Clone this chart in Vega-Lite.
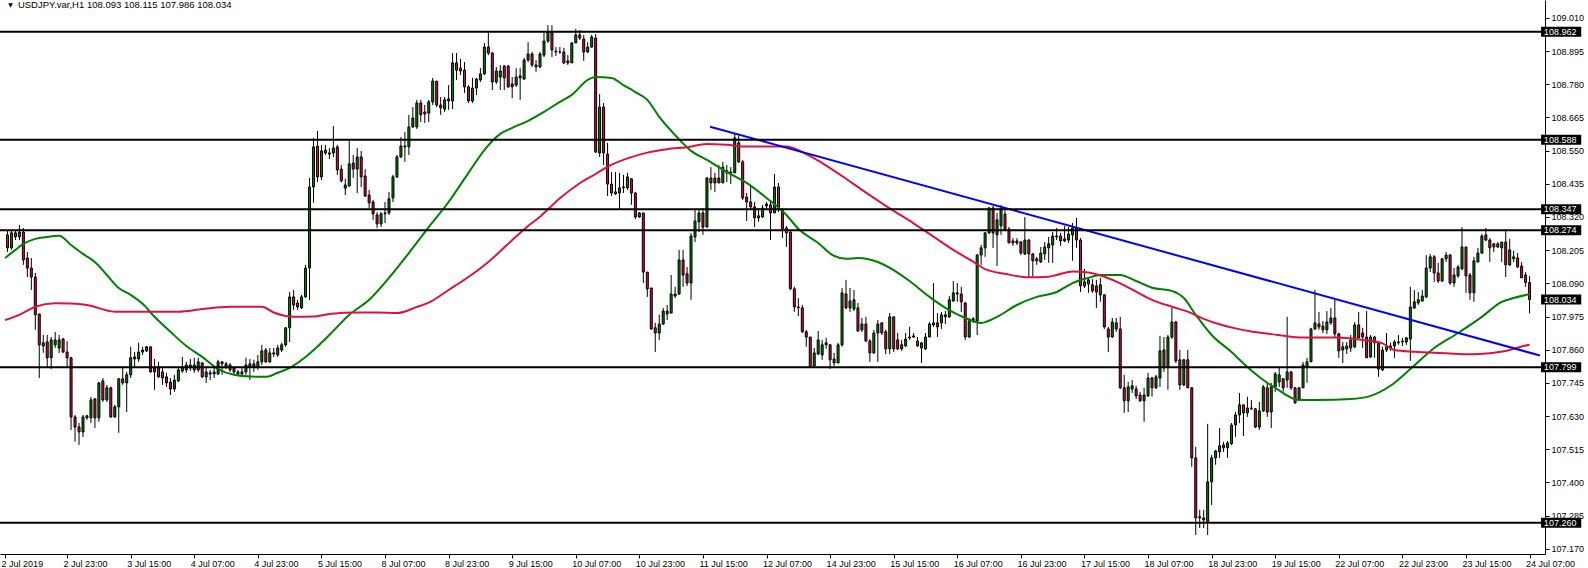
{
"$schema":"https://vega.github.io/schema/vega-lite/v6.json",
"width":1545,"height":554,
"autosize":{"type":"none"},
"padding":{"left":0,"top":0,"right":43,"bottom":14},
"background":"white",
"view":{"stroke":null},
"config":{"font":"Liberation Sans"},
"datasets":{
"bars":[
{"i":0,"o":108.258,"h":108.272,"l":108.199,"c":108.213},
{"i":1,"o":108.213,"h":108.275,"l":108.206,"c":108.265},
{"i":2,"o":108.265,"h":108.275,"l":108.240,"c":108.251},
{"i":3,"o":108.251,"h":108.292,"l":108.240,"c":108.268},
{"i":4,"o":108.268,"h":108.282,"l":108.154,"c":108.171},
{"i":5,"o":108.178,"h":108.199,"l":108.112,"c":108.143},
{"i":6,"o":108.143,"h":108.178,"l":108.067,"c":108.112},
{"i":7,"o":108.112,"h":108.126,"l":107.929,"c":107.981},
{"i":8,"o":107.984,"h":107.984,"l":107.762,"c":107.877},
{"i":9,"o":107.873,"h":107.911,"l":107.849,"c":107.884},
{"i":10,"o":107.887,"h":107.911,"l":107.800,"c":107.832},
{"i":11,"o":107.832,"h":107.904,"l":107.793,"c":107.894},
{"i":12,"o":107.877,"h":107.922,"l":107.866,"c":107.894},
{"i":13,"o":107.866,"h":107.911,"l":107.849,"c":107.894},
{"i":14,"o":107.897,"h":107.901,"l":107.849,"c":107.852},
{"i":15,"o":107.852,"h":107.890,"l":107.797,"c":107.832},
{"i":16,"o":107.832,"h":107.835,"l":107.582,"c":107.627},
{"i":17,"o":107.627,"h":107.634,"l":107.541,"c":107.592},
{"i":18,"o":107.592,"h":107.606,"l":107.530,"c":107.575},
{"i":19,"o":107.575,"h":107.634,"l":107.558,"c":107.627},
{"i":20,"o":107.624,"h":107.634,"l":107.617,"c":107.631},
{"i":21,"o":107.624,"h":107.696,"l":107.606,"c":107.686},
{"i":22,"o":107.689,"h":107.693,"l":107.589,"c":107.624},
{"i":23,"o":107.624,"h":107.748,"l":107.610,"c":107.745},
{"i":24,"o":107.752,"h":107.762,"l":107.679,"c":107.686},
{"i":25,"o":107.686,"h":107.738,"l":107.679,"c":107.728},
{"i":26,"o":107.728,"h":107.731,"l":107.624,"c":107.627},
{"i":27,"o":107.627,"h":107.669,"l":107.624,"c":107.662},
{"i":28,"o":107.662,"h":107.762,"l":107.572,"c":107.759},
{"i":29,"o":107.759,"h":107.797,"l":107.738,"c":107.745},
{"i":30,"o":107.745,"h":107.783,"l":107.644,"c":107.773},
{"i":31,"o":107.773,"h":107.870,"l":107.762,"c":107.832},
{"i":32,"o":107.828,"h":107.852,"l":107.797,"c":107.835},
{"i":33,"o":107.828,"h":107.884,"l":107.818,"c":107.852},
{"i":34,"o":107.852,"h":107.870,"l":107.842,"c":107.859},
{"i":35,"o":107.856,"h":107.873,"l":107.852,"c":107.870},
{"i":36,"o":107.870,"h":107.870,"l":107.780,"c":107.783},
{"i":37,"o":107.783,"h":107.828,"l":107.721,"c":107.797},
{"i":38,"o":107.800,"h":107.818,"l":107.762,"c":107.766},
{"i":39,"o":107.783,"h":107.800,"l":107.738,"c":107.762},
{"i":40,"o":107.766,"h":107.780,"l":107.731,"c":107.745},
{"i":41,"o":107.748,"h":107.762,"l":107.703,"c":107.724},
{"i":42,"o":107.724,"h":107.773,"l":107.714,"c":107.755},
{"i":43,"o":107.752,"h":107.800,"l":107.748,"c":107.790},
{"i":44,"o":107.786,"h":107.835,"l":107.780,"c":107.797},
{"i":45,"o":107.790,"h":107.818,"l":107.780,"c":107.807},
{"i":46,"o":107.797,"h":107.828,"l":107.786,"c":107.807},
{"i":47,"o":107.807,"h":107.832,"l":107.780,"c":107.790},
{"i":48,"o":107.790,"h":107.832,"l":107.783,"c":107.818},
{"i":49,"o":107.814,"h":107.818,"l":107.762,"c":107.766},
{"i":50,"o":107.766,"h":107.797,"l":107.745,"c":107.783},
{"i":51,"o":107.776,"h":107.790,"l":107.755,"c":107.780},
{"i":52,"o":107.776,"h":107.797,"l":107.762,"c":107.783},
{"i":53,"o":107.776,"h":107.825,"l":107.773,"c":107.818},
{"i":54,"o":107.818,"h":107.821,"l":107.773,"c":107.811},
{"i":55,"o":107.811,"h":107.818,"l":107.793,"c":107.800},
{"i":56,"o":107.807,"h":107.814,"l":107.783,"c":107.790},
{"i":57,"o":107.797,"h":107.800,"l":107.776,"c":107.783},
{"i":58,"o":107.776,"h":107.790,"l":107.769,"c":107.783},
{"i":59,"o":107.776,"h":107.797,"l":107.769,"c":107.783},
{"i":60,"o":107.783,"h":107.832,"l":107.773,"c":107.807},
{"i":61,"o":107.811,"h":107.828,"l":107.755,"c":107.800},
{"i":62,"o":107.800,"h":107.825,"l":107.783,"c":107.811},
{"i":63,"o":107.800,"h":107.842,"l":107.790,"c":107.818},
{"i":64,"o":107.818,"h":107.877,"l":107.807,"c":107.856},
{"i":65,"o":107.859,"h":107.866,"l":107.814,"c":107.818},
{"i":66,"o":107.818,"h":107.866,"l":107.814,"c":107.849},
{"i":67,"o":107.845,"h":107.866,"l":107.835,"c":107.849},
{"i":68,"o":107.842,"h":107.877,"l":107.835,"c":107.866},
{"i":69,"o":107.859,"h":107.884,"l":107.852,"c":107.877},
{"i":70,"o":107.877,"h":107.939,"l":107.870,"c":107.936},
{"i":71,"o":107.936,"h":108.060,"l":107.887,"c":108.043},
{"i":72,"o":108.043,"h":108.067,"l":107.998,"c":108.015},
{"i":73,"o":108.022,"h":108.033,"l":107.998,"c":108.008},
{"i":74,"o":108.005,"h":108.050,"l":108.001,"c":108.043},
{"i":75,"o":108.043,"h":108.154,"l":108.039,"c":108.143},
{"i":76,"o":108.143,"h":108.455,"l":108.033,"c":108.424},
{"i":77,"o":108.424,"h":108.594,"l":108.369,"c":108.563},
{"i":78,"o":108.566,"h":108.618,"l":108.441,"c":108.459},
{"i":79,"o":108.459,"h":108.570,"l":108.448,"c":108.549},
{"i":80,"o":108.552,"h":108.570,"l":108.535,"c":108.542},
{"i":81,"o":108.538,"h":108.559,"l":108.521,"c":108.542},
{"i":82,"o":108.542,"h":108.635,"l":108.528,"c":108.559},
{"i":83,"o":108.563,"h":108.570,"l":108.466,"c":108.483},
{"i":84,"o":108.486,"h":108.500,"l":108.440,"c":108.445},
{"i":85,"o":108.420,"h":108.452,"l":108.396,"c":108.431},
{"i":86,"o":108.428,"h":108.587,"l":108.424,"c":108.504},
{"i":87,"o":108.507,"h":108.535,"l":108.455,"c":108.486},
{"i":88,"o":108.486,"h":108.559,"l":108.403,"c":108.528},
{"i":89,"o":108.528,"h":108.549,"l":108.424,"c":108.459},
{"i":90,"o":108.462,"h":108.486,"l":108.389,"c":108.393},
{"i":91,"o":108.396,"h":108.414,"l":108.351,"c":108.369},
{"i":92,"o":108.372,"h":108.379,"l":108.310,"c":108.331},
{"i":93,"o":108.327,"h":108.337,"l":108.282,"c":108.296},
{"i":94,"o":108.296,"h":108.337,"l":108.285,"c":108.331},
{"i":95,"o":108.331,"h":108.372,"l":108.299,"c":108.334},
{"i":96,"o":108.334,"h":108.407,"l":108.327,"c":108.383},
{"i":97,"o":108.386,"h":108.466,"l":108.372,"c":108.459},
{"i":98,"o":108.459,"h":108.535,"l":108.455,"c":108.528},
{"i":99,"o":108.528,"h":108.597,"l":108.525,"c":108.566},
{"i":100,"o":108.563,"h":108.615,"l":108.511,"c":108.566},
{"i":101,"o":108.563,"h":108.674,"l":108.535,"c":108.632},
{"i":102,"o":108.632,"h":108.701,"l":108.629,"c":108.663},
{"i":103,"o":108.632,"h":108.726,"l":108.625,"c":108.715},
{"i":104,"o":108.715,"h":108.726,"l":108.649,"c":108.674},
{"i":105,"o":108.684,"h":108.708,"l":108.646,"c":108.677},
{"i":106,"o":108.680,"h":108.726,"l":108.649,"c":108.719},
{"i":107,"o":108.719,"h":108.802,"l":108.708,"c":108.791},
{"i":108,"o":108.791,"h":108.791,"l":108.701,"c":108.708},
{"i":109,"o":108.708,"h":108.736,"l":108.674,"c":108.698},
{"i":110,"o":108.694,"h":108.736,"l":108.684,"c":108.726},
{"i":111,"o":108.729,"h":108.777,"l":108.691,"c":108.722},
{"i":112,"o":108.722,"h":108.888,"l":108.694,"c":108.854},
{"i":113,"o":108.854,"h":108.888,"l":108.795,"c":108.829},
{"i":114,"o":108.836,"h":108.868,"l":108.812,"c":108.826},
{"i":115,"o":108.829,"h":108.857,"l":108.750,"c":108.771},
{"i":116,"o":108.771,"h":108.777,"l":108.715,"c":108.722},
{"i":117,"o":108.722,"h":108.802,"l":108.715,"c":108.767},
{"i":118,"o":108.767,"h":108.802,"l":108.743,"c":108.798},
{"i":119,"o":108.795,"h":108.836,"l":108.788,"c":108.816},
{"i":120,"o":108.816,"h":108.923,"l":108.812,"c":108.909},
{"i":121,"o":108.909,"h":108.961,"l":108.881,"c":108.888},
{"i":122,"o":108.888,"h":108.892,"l":108.760,"c":108.788},
{"i":123,"o":108.788,"h":108.840,"l":108.781,"c":108.826},
{"i":124,"o":108.805,"h":108.847,"l":108.760,"c":108.826},
{"i":125,"o":108.843,"h":108.847,"l":108.760,"c":108.802},
{"i":126,"o":108.843,"h":108.847,"l":108.767,"c":108.771},
{"i":127,"o":108.781,"h":108.805,"l":108.732,"c":108.771},
{"i":128,"o":108.777,"h":108.836,"l":108.771,"c":108.805},
{"i":129,"o":108.802,"h":108.836,"l":108.726,"c":108.809},
{"i":130,"o":108.798,"h":108.871,"l":108.795,"c":108.864},
{"i":131,"o":108.864,"h":108.926,"l":108.857,"c":108.885},
{"i":132,"o":108.885,"h":108.892,"l":108.840,"c":108.847},
{"i":133,"o":108.847,"h":108.864,"l":108.823,"c":108.840},
{"i":134,"o":108.840,"h":108.892,"l":108.836,"c":108.885},
{"i":135,"o":108.881,"h":108.958,"l":108.874,"c":108.930},
{"i":136,"o":108.930,"h":108.985,"l":108.923,"c":108.961},
{"i":137,"o":108.961,"h":108.985,"l":108.874,"c":108.899},
{"i":138,"o":108.892,"h":108.909,"l":108.878,"c":108.895},
{"i":139,"o":108.892,"h":108.909,"l":108.885,"c":108.892},
{"i":140,"o":108.892,"h":108.906,"l":108.850,"c":108.854},
{"i":141,"o":108.861,"h":108.881,"l":108.847,"c":108.854},
{"i":142,"o":108.854,"h":108.926,"l":108.854,"c":108.923},
{"i":143,"o":108.923,"h":108.972,"l":108.923,"c":108.951},
{"i":144,"o":108.951,"h":108.968,"l":108.933,"c":108.940},
{"i":145,"o":108.937,"h":108.951,"l":108.861,"c":108.892},
{"i":146,"o":108.892,"h":108.926,"l":108.888,"c":108.909},
{"i":147,"o":108.909,"h":108.951,"l":108.906,"c":108.944},
{"i":148,"o":108.940,"h":108.954,"l":108.542,"c":108.545},
{"i":149,"o":108.542,"h":108.746,"l":108.528,"c":108.701},
{"i":150,"o":108.701,"h":108.715,"l":108.500,"c":108.542},
{"i":151,"o":108.538,"h":108.577,"l":108.393,"c":108.434},
{"i":152,"o":108.434,"h":108.476,"l":108.393,"c":108.403},
{"i":153,"o":108.407,"h":108.476,"l":108.396,"c":108.400},
{"i":154,"o":108.403,"h":108.473,"l":108.344,"c":108.421},
{"i":155,"o":108.421,"h":108.466,"l":108.403,"c":108.424},
{"i":156,"o":108.421,"h":108.473,"l":108.414,"c":108.459},
{"i":157,"o":108.452,"h":108.455,"l":108.362,"c":108.403},
{"i":158,"o":108.403,"h":108.407,"l":108.313,"c":108.320},
{"i":159,"o":108.320,"h":108.337,"l":108.317,"c":108.334},
{"i":160,"o":108.334,"h":108.334,"l":108.091,"c":108.129},
{"i":161,"o":108.129,"h":108.129,"l":108.043,"c":108.071},
{"i":162,"o":108.074,"h":108.074,"l":107.929,"c":107.932},
{"i":163,"o":107.936,"h":107.953,"l":107.852,"c":107.918},
{"i":164,"o":107.918,"h":107.981,"l":107.894,"c":107.949},
{"i":165,"o":107.949,"h":108.005,"l":107.946,"c":107.994},
{"i":166,"o":107.994,"h":108.015,"l":107.963,"c":107.984},
{"i":167,"o":107.987,"h":108.119,"l":107.987,"c":108.053},
{"i":168,"o":108.046,"h":108.078,"l":108.039,"c":108.053},
{"i":169,"o":108.053,"h":108.206,"l":108.050,"c":108.171},
{"i":170,"o":108.171,"h":108.206,"l":108.078,"c":108.119},
{"i":171,"o":108.123,"h":108.147,"l":108.081,"c":108.091},
{"i":172,"o":108.091,"h":108.265,"l":108.033,"c":108.254},
{"i":173,"o":108.251,"h":108.348,"l":108.233,"c":108.306},
{"i":174,"o":108.303,"h":108.344,"l":108.268,"c":108.334},
{"i":175,"o":108.334,"h":108.351,"l":108.258,"c":108.285},
{"i":176,"o":108.285,"h":108.459,"l":108.285,"c":108.455},
{"i":177,"o":108.455,"h":108.493,"l":108.414,"c":108.438},
{"i":178,"o":108.438,"h":108.473,"l":108.407,"c":108.455},
{"i":179,"o":108.455,"h":108.500,"l":108.438,"c":108.438},
{"i":180,"o":108.438,"h":108.511,"l":108.438,"c":108.493},
{"i":181,"o":108.473,"h":108.500,"l":108.441,"c":108.480},
{"i":182,"o":108.473,"h":108.493,"l":108.434,"c":108.476},
{"i":183,"o":108.473,"h":108.611,"l":108.473,"c":108.594},
{"i":184,"o":108.577,"h":108.604,"l":108.507,"c":108.511},
{"i":185,"o":108.511,"h":108.518,"l":108.379,"c":108.386},
{"i":186,"o":108.389,"h":108.403,"l":108.306,"c":108.372},
{"i":187,"o":108.372,"h":108.428,"l":108.348,"c":108.355},
{"i":188,"o":108.355,"h":108.372,"l":108.285,"c":108.317},
{"i":189,"o":108.317,"h":108.351,"l":108.303,"c":108.324},
{"i":190,"o":108.320,"h":108.362,"l":108.317,"c":108.351},
{"i":191,"o":108.358,"h":108.372,"l":108.344,"c":108.365},
{"i":192,"o":108.362,"h":108.372,"l":108.240,"c":108.334},
{"i":193,"o":108.334,"h":108.469,"l":108.334,"c":108.424},
{"i":194,"o":108.424,"h":108.438,"l":108.337,"c":108.344},
{"i":195,"o":108.344,"h":108.351,"l":108.247,"c":108.279},
{"i":196,"o":108.282,"h":108.289,"l":108.216,"c":108.265},
{"i":197,"o":108.268,"h":108.275,"l":108.067,"c":108.071},
{"i":198,"o":108.071,"h":108.078,"l":107.991,"c":108.008},
{"i":199,"o":108.005,"h":108.039,"l":107.977,"c":108.008},
{"i":200,"o":108.005,"h":108.015,"l":107.918,"c":107.922},
{"i":201,"o":107.922,"h":107.929,"l":107.870,"c":107.904},
{"i":202,"o":107.904,"h":107.904,"l":107.800,"c":107.800},
{"i":203,"o":107.804,"h":107.866,"l":107.800,"c":107.849},
{"i":204,"o":107.845,"h":107.925,"l":107.842,"c":107.894},
{"i":205,"o":107.842,"h":107.894,"l":107.825,"c":107.877},
{"i":206,"o":107.877,"h":107.901,"l":107.863,"c":107.884},
{"i":207,"o":107.877,"h":107.880,"l":107.793,"c":107.825},
{"i":208,"o":107.814,"h":107.849,"l":107.804,"c":107.828},
{"i":209,"o":107.814,"h":107.884,"l":107.814,"c":107.877},
{"i":210,"o":107.877,"h":108.074,"l":107.870,"c":108.057},
{"i":211,"o":108.053,"h":108.102,"l":108.001,"c":108.005},
{"i":212,"o":108.005,"h":108.074,"l":107.991,"c":108.029},
{"i":213,"o":108.001,"h":108.067,"l":107.994,"c":108.033},
{"i":214,"o":108.005,"h":108.022,"l":107.922,"c":107.925},
{"i":215,"o":107.929,"h":107.970,"l":107.922,"c":107.949},
{"i":216,"o":107.949,"h":107.974,"l":107.887,"c":107.890},
{"i":217,"o":107.890,"h":107.897,"l":107.818,"c":107.849},
{"i":218,"o":107.849,"h":107.929,"l":107.845,"c":107.918},
{"i":219,"o":107.918,"h":107.963,"l":107.818,"c":107.949},
{"i":220,"o":107.953,"h":107.956,"l":107.911,"c":107.918},
{"i":221,"o":107.922,"h":107.929,"l":107.845,"c":107.863},
{"i":222,"o":107.863,"h":107.987,"l":107.845,"c":107.974},
{"i":223,"o":107.974,"h":107.974,"l":107.852,"c":107.863},
{"i":224,"o":107.894,"h":107.918,"l":107.859,"c":107.863},
{"i":225,"o":107.863,"h":107.894,"l":107.856,"c":107.877},
{"i":226,"o":107.873,"h":107.918,"l":107.870,"c":107.897},
{"i":227,"o":107.901,"h":107.939,"l":107.894,"c":107.904},
{"i":228,"o":107.904,"h":107.918,"l":107.901,"c":107.908},
{"i":229,"o":107.890,"h":107.904,"l":107.870,"c":107.873},
{"i":230,"o":107.866,"h":107.887,"l":107.814,"c":107.884},
{"i":231,"o":107.863,"h":107.918,"l":107.859,"c":107.904},
{"i":232,"o":107.904,"h":107.956,"l":107.904,"c":107.949},
{"i":233,"o":107.946,"h":108.091,"l":107.939,"c":107.953},
{"i":234,"o":107.953,"h":107.987,"l":107.904,"c":107.939},
{"i":235,"o":107.953,"h":107.991,"l":107.932,"c":107.981},
{"i":236,"o":107.974,"h":107.994,"l":107.949,"c":107.981},
{"i":237,"o":107.974,"h":108.046,"l":107.970,"c":108.033},
{"i":238,"o":108.029,"h":108.098,"l":108.026,"c":108.057},
{"i":239,"o":108.057,"h":108.091,"l":108.026,"c":108.053},
{"i":240,"o":108.053,"h":108.078,"l":107.991,"c":108.026},
{"i":241,"o":108.022,"h":108.026,"l":107.894,"c":107.904},
{"i":242,"o":107.904,"h":107.970,"l":107.901,"c":107.960},
{"i":243,"o":107.960,"h":107.974,"l":107.953,"c":107.967},
{"i":244,"o":107.960,"h":108.192,"l":107.911,"c":108.188},
{"i":245,"o":108.188,"h":108.223,"l":108.154,"c":108.213},
{"i":246,"o":108.213,"h":108.268,"l":108.182,"c":108.265},
{"i":247,"o":108.265,"h":108.355,"l":108.261,"c":108.351},
{"i":248,"o":108.351,"h":108.358,"l":108.213,"c":108.265},
{"i":249,"o":108.258,"h":108.334,"l":108.150,"c":108.310},
{"i":250,"o":108.289,"h":108.362,"l":108.258,"c":108.351},
{"i":251,"o":108.330,"h":108.344,"l":108.275,"c":108.278},
{"i":252,"o":108.278,"h":108.285,"l":108.230,"c":108.230},
{"i":253,"o":108.237,"h":108.247,"l":108.220,"c":108.230},
{"i":254,"o":108.230,"h":108.247,"l":108.223,"c":108.237},
{"i":255,"o":108.233,"h":108.237,"l":108.188,"c":108.195},
{"i":256,"o":108.192,"h":108.320,"l":108.188,"c":108.240},
{"i":257,"o":108.240,"h":108.244,"l":108.112,"c":108.192},
{"i":258,"o":108.192,"h":108.195,"l":108.112,"c":108.168},
{"i":259,"o":108.168,"h":108.182,"l":108.154,"c":108.175},
{"i":260,"o":108.164,"h":108.216,"l":108.161,"c":108.195},
{"i":261,"o":108.192,"h":108.233,"l":108.171,"c":108.216},
{"i":262,"o":108.213,"h":108.251,"l":108.161,"c":108.227},
{"i":263,"o":108.223,"h":108.268,"l":108.161,"c":108.254},
{"i":264,"o":108.251,"h":108.282,"l":108.240,"c":108.254},
{"i":265,"o":108.254,"h":108.265,"l":108.220,"c":108.237},
{"i":266,"o":108.237,"h":108.289,"l":108.233,"c":108.244},
{"i":267,"o":108.240,"h":108.285,"l":108.230,"c":108.261},
{"i":268,"o":108.258,"h":108.299,"l":108.168,"c":108.282},
{"i":269,"o":108.282,"h":108.317,"l":108.213,"c":108.240},
{"i":270,"o":108.240,"h":108.247,"l":108.060,"c":108.081},
{"i":271,"o":108.081,"h":108.140,"l":108.074,"c":108.095},
{"i":272,"o":108.102,"h":108.112,"l":108.057,"c":108.088},
{"i":273,"o":108.085,"h":108.105,"l":108.057,"c":108.064},
{"i":274,"o":108.081,"h":108.102,"l":108.005,"c":108.060},
{"i":275,"o":108.050,"h":108.109,"l":108.026,"c":108.085},
{"i":276,"o":108.050,"h":108.053,"l":107.932,"c":107.939},
{"i":277,"o":107.932,"h":107.939,"l":107.852,"c":107.904},
{"i":278,"o":107.904,"h":107.970,"l":107.901,"c":107.956},
{"i":279,"o":107.953,"h":107.970,"l":107.922,"c":107.932},
{"i":280,"o":107.932,"h":107.974,"l":107.724,"c":107.728},
{"i":281,"o":107.728,"h":107.773,"l":107.641,"c":107.683},
{"i":282,"o":107.683,"h":107.748,"l":107.644,"c":107.731},
{"i":283,"o":107.724,"h":107.755,"l":107.710,"c":107.735},
{"i":284,"o":107.724,"h":107.735,"l":107.689,"c":107.700},
{"i":285,"o":107.703,"h":107.714,"l":107.679,"c":107.683},
{"i":286,"o":107.683,"h":107.728,"l":107.610,"c":107.703},
{"i":287,"o":107.700,"h":107.780,"l":107.697,"c":107.762},
{"i":288,"o":107.762,"h":107.766,"l":107.697,"c":107.728},
{"i":289,"o":107.728,"h":107.773,"l":107.724,"c":107.766},
{"i":290,"o":107.762,"h":107.908,"l":107.731,"c":107.856},
{"i":291,"o":107.859,"h":107.904,"l":107.783,"c":107.797},
{"i":292,"o":107.800,"h":107.911,"l":107.721,"c":107.904},
{"i":293,"o":107.904,"h":108.005,"l":107.897,"c":107.956},
{"i":294,"o":107.956,"h":107.960,"l":107.814,"c":107.821},
{"i":295,"o":107.825,"h":107.859,"l":107.721,"c":107.738},
{"i":296,"o":107.738,"h":107.828,"l":107.734,"c":107.825},
{"i":297,"o":107.825,"h":107.859,"l":107.728,"c":107.728},
{"i":298,"o":107.728,"h":107.731,"l":107.454,"c":107.485},
{"i":299,"o":107.485,"h":107.523,"l":107.218,"c":107.277},
{"i":300,"o":107.277,"h":107.305,"l":107.242,"c":107.281},
{"i":301,"o":107.277,"h":107.305,"l":107.242,"c":107.270},
{"i":302,"o":107.263,"h":107.603,"l":107.218,"c":107.402},
{"i":303,"o":107.402,"h":107.495,"l":107.322,"c":107.485},
{"i":304,"o":107.485,"h":107.513,"l":107.461,"c":107.509},
{"i":305,"o":107.506,"h":107.589,"l":107.485,"c":107.527},
{"i":306,"o":107.530,"h":107.541,"l":107.506,"c":107.520},
{"i":307,"o":107.520,"h":107.544,"l":107.485,"c":107.537},
{"i":308,"o":107.534,"h":107.606,"l":107.530,"c":107.599},
{"i":309,"o":107.599,"h":107.644,"l":107.558,"c":107.634},
{"i":310,"o":107.634,"h":107.710,"l":107.606,"c":107.669},
{"i":311,"o":107.669,"h":107.669,"l":107.561,"c":107.641},
{"i":312,"o":107.641,"h":107.697,"l":107.627,"c":107.658},
{"i":313,"o":107.655,"h":107.686,"l":107.651,"c":107.658},
{"i":314,"o":107.655,"h":107.658,"l":107.589,"c":107.592},
{"i":315,"o":107.592,"h":107.679,"l":107.582,"c":107.648},
{"i":316,"o":107.648,"h":107.738,"l":107.644,"c":107.731},
{"i":317,"o":107.728,"h":107.748,"l":107.627,"c":107.644},
{"i":318,"o":107.644,"h":107.745,"l":107.589,"c":107.731},
{"i":319,"o":107.731,"h":107.783,"l":107.714,"c":107.776},
{"i":320,"o":107.748,"h":107.797,"l":107.731,"c":107.773},
{"i":321,"o":107.759,"h":107.762,"l":107.714,"c":107.728},
{"i":322,"o":107.755,"h":107.974,"l":107.728,"c":107.783},
{"i":323,"o":107.783,"h":107.786,"l":107.721,"c":107.728},
{"i":324,"o":107.728,"h":107.731,"l":107.672,"c":107.676},
{"i":325,"o":107.689,"h":107.731,"l":107.683,"c":107.728},
{"i":326,"o":107.728,"h":107.818,"l":107.728,"c":107.807},
{"i":327,"o":107.800,"h":107.832,"l":107.745,"c":107.818},
{"i":328,"o":107.818,"h":107.936,"l":107.818,"c":107.932},
{"i":329,"o":107.932,"h":108.067,"l":107.929,"c":107.953},
{"i":330,"o":107.949,"h":107.991,"l":107.929,"c":107.939},
{"i":331,"o":107.942,"h":107.960,"l":107.918,"c":107.929},
{"i":332,"o":107.929,"h":107.994,"l":107.915,"c":107.956},
{"i":333,"o":107.953,"h":108.005,"l":107.946,"c":107.970},
{"i":334,"o":107.970,"h":108.033,"l":107.904,"c":107.915},
{"i":335,"o":107.915,"h":107.918,"l":107.832,"c":107.856},
{"i":336,"o":107.859,"h":107.887,"l":107.814,"c":107.870},
{"i":337,"o":107.863,"h":107.887,"l":107.845,"c":107.873},
{"i":338,"o":107.894,"h":107.911,"l":107.852,"c":107.866},
{"i":339,"o":107.870,"h":107.956,"l":107.866,"c":107.946},
{"i":340,"o":107.946,"h":107.991,"l":107.901,"c":107.901},
{"i":341,"o":107.918,"h":107.936,"l":107.866,"c":107.904},
{"i":342,"o":107.904,"h":107.994,"l":107.832,"c":107.832},
{"i":343,"o":107.835,"h":107.911,"l":107.832,"c":107.904},
{"i":344,"o":107.904,"h":107.908,"l":107.832,"c":107.884},
{"i":345,"o":107.884,"h":107.887,"l":107.766,"c":107.793},
{"i":346,"o":107.790,"h":107.870,"l":107.786,"c":107.859},
{"i":347,"o":107.859,"h":107.918,"l":107.852,"c":107.870},
{"i":348,"o":107.866,"h":107.884,"l":107.856,"c":107.873},
{"i":349,"o":107.873,"h":107.894,"l":107.832,"c":107.887},
{"i":350,"o":107.884,"h":107.911,"l":107.877,"c":107.887},
{"i":351,"o":107.887,"h":107.901,"l":107.873,"c":107.890},
{"i":352,"o":107.887,"h":107.904,"l":107.877,"c":107.901},
{"i":353,"o":107.897,"h":108.078,"l":107.821,"c":108.008},
{"i":354,"o":108.005,"h":108.067,"l":108.001,"c":108.026},
{"i":355,"o":108.022,"h":108.060,"l":108.015,"c":108.033},
{"i":356,"o":108.029,"h":108.067,"l":108.026,"c":108.046},
{"i":357,"o":108.043,"h":108.188,"l":108.039,"c":108.143},
{"i":358,"o":108.143,"h":108.192,"l":108.129,"c":108.182},
{"i":359,"o":108.182,"h":108.188,"l":108.095,"c":108.126},
{"i":360,"o":108.126,"h":108.161,"l":108.091,"c":108.098},
{"i":361,"o":108.098,"h":108.178,"l":108.095,"c":108.175},
{"i":362,"o":108.175,"h":108.199,"l":108.164,"c":108.188},
{"i":363,"o":108.188,"h":108.192,"l":108.085,"c":108.091},
{"i":364,"o":108.091,"h":108.143,"l":108.078,"c":108.119},
{"i":365,"o":108.116,"h":108.154,"l":108.109,"c":108.147},
{"i":366,"o":108.140,"h":108.285,"l":108.136,"c":108.216},
{"i":367,"o":108.216,"h":108.216,"l":108.057,"c":108.116},
{"i":368,"o":108.119,"h":108.126,"l":108.033,"c":108.057},
{"i":369,"o":108.057,"h":108.182,"l":108.026,"c":108.168},
{"i":370,"o":108.164,"h":108.213,"l":108.164,"c":108.195},
{"i":371,"o":108.195,"h":108.261,"l":108.192,"c":108.254},
{"i":372,"o":108.258,"h":108.282,"l":108.237,"c":108.240},
{"i":373,"o":108.240,"h":108.247,"l":108.164,"c":108.213},
{"i":374,"o":108.216,"h":108.230,"l":108.199,"c":108.227},
{"i":375,"o":108.227,"h":108.233,"l":108.213,"c":108.216},
{"i":376,"o":108.213,"h":108.233,"l":108.164,"c":108.233},
{"i":377,"o":108.233,"h":108.275,"l":108.112,"c":108.154},
{"i":378,"o":108.154,"h":108.244,"l":108.150,"c":108.206},
{"i":379,"o":108.182,"h":108.203,"l":108.164,"c":108.175},
{"i":380,"o":108.178,"h":108.195,"l":108.143,"c":108.147},
{"i":381,"o":108.150,"h":108.164,"l":108.109,"c":108.109},
{"i":382,"o":108.119,"h":108.129,"l":108.078,"c":108.093},
{"i":383,"o":108.093,"h":108.115,"l":107.986,"c":108.034}
],
"green":[
{"i":-0.6,"v":108.178},{"i":2,"v":108.206},{"i":4,"v":108.227},{"i":7,"v":108.244},{"i":10,"v":108.251},{"i":13,"v":108.255},{"i":16,"v":108.223},{"i":19,"v":108.192},{"i":22,"v":108.164},{"i":25,"v":108.119},{"i":28,"v":108.074},{"i":31,"v":108.050},{"i":34,"v":108.019},{"i":37,"v":107.974},{"i":41,"v":107.922},{"i":45,"v":107.873},{"i":49,"v":107.835},{"i":53,"v":107.793},{"i":57,"v":107.773},{"i":61,"v":107.767},{"i":65,"v":107.766},{"i":68,"v":107.780},{"i":71,"v":107.797},{"i":75,"v":107.835},{"i":81,"v":107.911},{"i":86,"v":107.981},{"i":91,"v":108.033},{"i":96,"v":108.109},{"i":101,"v":108.195},{"i":106,"v":108.285},{"i":111,"v":108.372},{"i":116,"v":108.473},{"i":120,"v":108.552},{"i":124,"v":108.608},{"i":127,"v":108.629},{"i":131,"v":108.653},{"i":135,"v":108.684},{"i":139,"v":108.719},{"i":142,"v":108.743},{"i":146,"v":108.795},{"i":148,"v":108.805},{"i":152,"v":108.802},{"i":155,"v":108.777},{"i":158,"v":108.753},{"i":161,"v":108.726},{"i":164,"v":108.667},{"i":168,"v":108.604},{"i":172,"v":108.549},{"i":176,"v":108.518},{"i":181,"v":108.476},{"i":186,"v":108.438},{"i":191,"v":108.386},{"i":196,"v":108.327},{"i":199,"v":108.279},{"i":204,"v":108.230},{"i":208,"v":108.185},{"i":211,"v":108.175},{"i":214,"v":108.178},{"i":219,"v":108.164},{"i":223,"v":108.136},{"i":227,"v":108.098},{"i":232,"v":108.043},{"i":236,"v":108.005},{"i":241,"v":107.970},{"i":245,"v":107.953},{"i":249,"v":107.974},{"i":254,"v":108.015},{"i":259,"v":108.043},{"i":264,"v":108.060},{"i":268,"v":108.091},{"i":272,"v":108.109},{"i":275,"v":108.119},{"i":280,"v":108.119},{"i":284,"v":108.098},{"i":288,"v":108.075},{"i":293,"v":108.064},{"i":296,"v":108.039},{"i":299,"v":107.981},{"i":303,"v":107.911},{"i":308,"v":107.852},{"i":312,"v":107.800},{"i":316,"v":107.755},{"i":319,"v":107.728},{"i":325,"v":107.686},{"i":330,"v":107.686},{"i":338,"v":107.689},{"i":343,"v":107.700},{"i":348,"v":107.735},{"i":353,"v":107.793},{"i":359,"v":107.866},{"i":365,"v":107.918},{"i":371,"v":107.974},{"i":376,"v":108.026},{"i":379,"v":108.039},{"i":383,"v":108.053}
],
"red":[
{"i":-0.6,"v":107.963},{"i":3,"v":107.981},{"i":7,"v":108.009},{"i":12,"v":108.021},{"i":16,"v":108.020},{"i":20,"v":108.015},{"i":27,"v":107.992},{"i":34,"v":107.992},{"i":43,"v":107.992},{"i":49,"v":108.001},{"i":56,"v":108.009},{"i":64,"v":108.009},{"i":67,"v":107.989},{"i":72,"v":107.974},{"i":77,"v":107.975},{"i":81,"v":107.984},{"i":88,"v":107.989},{"i":93,"v":107.989},{"i":98,"v":107.987},{"i":103,"v":108.008},{"i":106,"v":108.023},{"i":111,"v":108.067},{"i":116,"v":108.112},{"i":121,"v":108.164},{"i":126,"v":108.227},{"i":131,"v":108.289},{"i":134,"v":108.321},{"i":139,"v":108.385},{"i":144,"v":108.437},{"i":148,"v":108.469},{"i":151,"v":108.494},{"i":156,"v":108.523},{"i":161,"v":108.543},{"i":166,"v":108.555},{"i":171,"v":108.562},{"i":176,"v":108.573},{"i":181,"v":108.570},{"i":186,"v":108.564},{"i":196,"v":108.564},{"i":200,"v":108.545},{"i":205,"v":108.507},{"i":210,"v":108.462},{"i":215,"v":108.414},{"i":222,"v":108.350},{"i":228,"v":108.298},{"i":233,"v":108.252},{"i":238,"v":108.206},{"i":243,"v":108.165},{"i":246,"v":108.139},{"i":251,"v":108.123},{"i":257,"v":108.111},{"i":262,"v":108.113},{"i":264,"v":108.119},{"i":268,"v":108.131},{"i":272,"v":108.128},{"i":276,"v":108.113},{"i":280,"v":108.090},{"i":284,"v":108.061},{"i":288,"v":108.033},{"i":293,"v":108.009},{"i":297,"v":107.992},{"i":301,"v":107.967},{"i":305,"v":107.948},{"i":309,"v":107.934},{"i":313,"v":107.923},{"i":318,"v":107.914},{"i":323,"v":107.905},{"i":327,"v":107.902},{"i":334,"v":107.902},{"i":341,"v":107.894},{"i":346,"v":107.882},{"i":349,"v":107.859},{"i":354,"v":107.853},{"i":362,"v":107.848},{"i":368,"v":107.844},{"i":373,"v":107.848},{"i":378,"v":107.859},{"i":381,"v":107.871},{"i":383,"v":107.877}
],
"trend":[{"i":176.8,"v":108.633},{"i":385.6,"v":107.840}],
"levels":[{"p":108.962},{"p":108.588},{"p":108.347},{"p":108.274},{"p":107.799},{"p":107.260}],
"tags":[{"p":108.962,"t":"108.962"},{"p":108.588,"t":"108.588"},{"p":108.347,"t":"108.347"},{"p":108.274,"t":"108.274"},{"p":108.034,"t":"108.034"},{"p":107.799,"t":"107.799"},{"p":107.260,"t":"107.260"}],
"head":[{"i":2.625,"p":109.055,"t":"USDJPY.var,H1  108.093 108.115 107.986 108.034"}],
"tri":[{"i":0.75,"p":109.056,"t":"▼"}]
},
"layer":[
{"data":{"name":"bars"},
 "mark":{"type":"rule","color":"black","strokeWidth":1},
 "encoding":{
  "x":{"field":"i","type":"quantitative","scale":{"domain":[-0.625,385.625],"nice":false,"zero":false},
   "axis":{"orient":"bottom","title":null,"grid":false,"tickCount":60,"values":[-0.6,15,31,47,63,79,95,111,127,143,159,175,191,207,223,239,255,271,287,303,319,335,351,367,383],
    "labelExpr":"['2 Jul 2019','2 Jul 23:00','3 Jul 15:00','4 Jul 07:00','4 Jul 23:00','5 Jul 15:00','8 Jul 07:00','8 Jul 23:00','9 Jul 15:00','10 Jul 07:00','10 Jul 23:00','11 Jul 15:00','12 Jul 07:00','14 Jul 23:00','15 Jul 15:00','16 Jul 07:00','16 Jul 23:00','17 Jul 15:00','18 Jul 07:00','18 Jul 23:00','19 Jul 15:00','22 Jul 07:00','22 Jul 23:00','23 Jul 15:00','24 Jul 07:00'][round((datum.value+1)/16)]",
    "labelAlign":"left","labelBaseline":"top","labelPadding":1,"labelOffset":-4,"tickSize":4,"labelOverlap":false,"labelBound":false,"labelFlush":false,
    "domainColor":"black","tickColor":"black","labelColor":"black","labelFont":"Liberation Sans","labelFontSize":9,"domainWidth":1,"tickWidth":1}},
  "y":{"field":"l","type":"quantitative","scale":{"domain":[107.152,109.072],"nice":false,"zero":false},
   "axis":{"orient":"right","title":null,"grid":false,"tickCount":40,"values":[107.17,107.285,107.4,107.515,107.63,107.745,107.86,107.975,108.09,108.205,108.32,108.435,108.55,108.665,108.78,108.895,109.01],
    "format":".3f","tickSize":4,"labelPadding":2,"labelOverlap":false,"labelBound":false,"labelFlush":false,
    "domainColor":"black","tickColor":"black","labelColor":"black","labelFont":"Liberation Sans","labelFontSize":9,"domainWidth":1,"tickWidth":1}},
  "y2":{"field":"h"}}},
{"data":{"name":"bars"},
 "mark":{"type":"bar","width":2,"stroke":"black","strokeWidth":1},
 "encoding":{
  "x":{"field":"i","type":"quantitative"},
  "y":{"field":"o","type":"quantitative"},
  "y2":{"field":"c"},
  "fill":{"condition":{"test":"datum.c >= datum.o","value":"#008000"},"value":"#d0103a"}}},
{"data":{"name":"green"},
 "mark":{"type":"line","color":"#008000","strokeWidth":2,"interpolate":"monotone"},
 "encoding":{
  "x":{"field":"i","type":"quantitative"},
  "y":{"field":"v","type":"quantitative"}}},
{"data":{"name":"red"},
 "mark":{"type":"line","color":"#dc143c","strokeWidth":2,"interpolate":"monotone"},
 "encoding":{
  "x":{"field":"i","type":"quantitative"},
  "y":{"field":"v","type":"quantitative"}}},
{"data":{"name":"trend"},
 "mark":{"type":"line","color":"#0000ff","strokeWidth":2},
 "encoding":{
  "x":{"field":"i","type":"quantitative"},
  "y":{"field":"v","type":"quantitative"}}},
{"data":{"name":"levels"},
 "mark":{"type":"rule","color":"black","strokeWidth":2},
 "encoding":{
  "y":{"field":"p","type":"quantitative"}}},
{"data":{"name":"tags"},
 "mark":{"type":"rect","color":"black","yOffset":-5,"y2Offset":5},
 "encoding":{
  "x":{"datum":385.9,"type":"quantitative"},
  "x2":{"datum":396.0},
  "y":{"field":"p","type":"quantitative"},
  "y2":{"field":"p"}}},
{"data":{"name":"tags"},
 "mark":{"type":"text","color":"white","align":"left","baseline":"middle","font":"Liberation Sans","fontSize":9},
 "encoding":{
  "x":{"datum":386.6,"type":"quantitative"},
  "y":{"field":"p","type":"quantitative"},
  "text":{"field":"t"}}},
{"data":{"name":"head"},
 "mark":{"type":"text","color":"black","align":"left","baseline":"middle","font":"Liberation Sans","fontSize":9.5},
 "encoding":{
  "x":{"field":"i","type":"quantitative"},
  "y":{"field":"p","type":"quantitative"},
  "text":{"field":"t"}}},
{"data":{"name":"tri"},
 "mark":{"type":"text","color":"black","align":"center","baseline":"middle","font":"DejaVu Sans","fontSize":6},
 "encoding":{
  "x":{"field":"i","type":"quantitative"},
  "y":{"field":"p","type":"quantitative"},
  "text":{"field":"t"}}}
]
}
